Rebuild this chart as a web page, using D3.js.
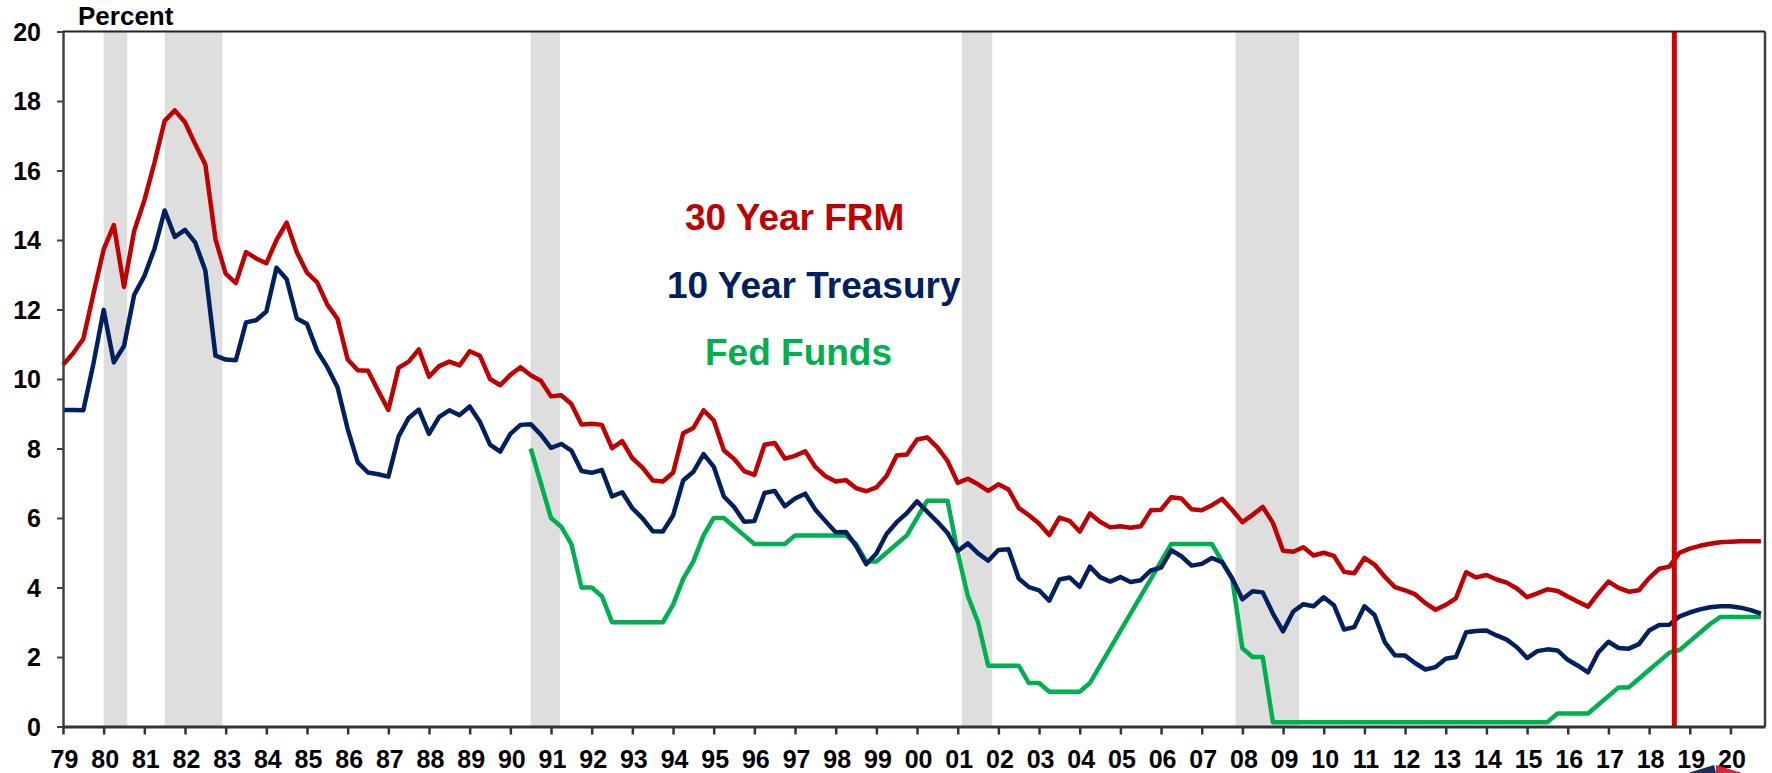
<!DOCTYPE html>
<html>
<head>
<meta charset="utf-8">
<script src="https://cdn.jsdelivr.net/npm/d3@7/dist/d3.min.js"></script>
<style>
  body { margin: 0; background: #ffffff; }
  svg { display: block; }
  text { font-family: "Liberation Sans", Arial, sans-serif; font-weight: bold; }
</style>
</head>
<body>
<div class="rates-chart-container"></div>
<script>
// quarterly values, first point = 1979 Q1
const firstQuarter = 1979;
const frm30 = [
    10.41, 10.74, 11.16, 12.46,  13.73, 14.43, 12.65, 14.26,  15.14, 16.23, 17.43, 17.73,
    17.39, 16.76, 16.17, 14.02,  13.03, 12.76, 13.65, 13.47,  13.33, 14.00, 14.50, 13.65,
    13.06, 12.78, 12.14, 11.73,  10.56, 10.25, 10.24, 9.66,   9.11, 10.32, 10.50, 10.85,
    10.07, 10.37, 10.50, 10.39,  10.80, 10.67, 10.00, 9.82,   10.12, 10.34, 10.11, 9.95,
    9.50, 9.53, 9.28, 8.69,      8.71, 8.68, 8.01, 8.21,      7.72, 7.45, 7.08, 7.05,
    7.30, 8.44, 8.59, 9.10,      8.81, 7.95, 7.70, 7.35,      7.24, 8.11, 8.16, 7.71,
    7.79, 7.92, 7.47, 7.20,      7.05, 7.09, 6.86, 6.77,      6.88, 7.21, 7.80, 7.83,
    8.26, 8.32, 8.03, 7.64,      7.01, 7.13, 6.97, 6.78,      6.97, 6.82, 6.29, 6.08,
    5.84, 5.51, 6.01, 5.92,      5.61, 6.13, 5.89, 5.73,      5.76, 5.72, 5.76, 6.22,
    6.24, 6.60, 6.56, 6.25,      6.22, 6.37, 6.55, 6.23,      5.88, 6.09, 6.32, 5.86,
    5.06, 5.03, 5.16, 4.92,      5.00, 4.91, 4.45, 4.41,      4.85, 4.66, 4.31, 4.01,
    3.92, 3.80, 3.55, 3.36,      3.50, 3.69, 4.44, 4.29,      4.36, 4.23, 4.14, 3.97,
    3.72, 3.83, 3.95, 3.90,      3.74, 3.59, 3.45, 3.83,      4.17, 3.99, 3.88, 3.92,
    4.27, 4.54, 4.60, 5.00,      5.12, 5.20, 5.26, 5.30,      5.32, 5.33, 5.33, 5.33
];
const treasury10 = [
    9.11, 9.11, 9.10, 10.45,     11.99, 10.48, 10.95, 12.42,  12.96, 13.75, 14.85, 14.09,
    14.29, 13.93, 13.12, 10.67,  10.56, 10.54, 11.63, 11.69,  11.94, 13.20, 12.87, 11.74,
    11.58, 10.81, 10.34, 9.76,   8.56, 7.60, 7.31, 7.26,      7.19, 8.34, 8.88, 9.12,
    8.42, 8.91, 9.10, 8.96,      9.21, 8.77, 8.11, 7.91,      8.42, 8.68, 8.70, 8.40,
    8.02, 8.13, 7.94, 7.35,      7.30, 7.38, 6.62, 6.74,      6.28, 5.99, 5.62, 5.61,
    6.07, 7.08, 7.33, 7.84,      7.48, 6.62, 6.32, 5.89,      5.91, 6.72, 6.78, 6.34,
    6.56, 6.70, 6.24, 5.91,      5.59, 5.60, 5.20, 4.67,      4.98, 5.54, 5.88, 6.14,
    6.48, 6.18, 5.89, 5.57,      5.05, 5.27, 4.98, 4.77,      5.08, 5.10, 4.26, 4.01,
    3.92, 3.62, 4.23, 4.29,      4.02, 4.60, 4.30, 4.17,      4.30, 4.16, 4.21, 4.49,
    4.57, 5.07, 4.90, 4.63,      4.68, 4.85, 4.73, 4.26,      3.66, 3.89, 3.86, 3.25,
    2.74, 3.31, 3.52, 3.46,      3.72, 3.49, 2.79, 2.86,      3.46, 3.21, 2.43, 2.05,
    2.04, 1.82, 1.64, 1.71,      1.95, 2.00, 2.71, 2.75,      2.76, 2.62, 2.50, 2.28,
    1.97, 2.17, 2.22, 2.19,      1.92, 1.75, 1.56, 2.13,      2.44, 2.26, 2.24, 2.37,
    2.76, 2.92, 2.93, 3.17,      3.28, 3.37, 3.43, 3.46,      3.46, 3.42, 3.35, 3.25
];
// fed funds starts at 1990 Q3
const fedFundsFirstQuarter = 1990.5;
const fedFunds = [
    8.00, 7.00,
    6.00, 5.75, 5.25, 4.00,      4.00, 3.75, 3.00, 3.00,      3.00, 3.00, 3.00, 3.00,
    3.50, 4.25, 4.75, 5.50,      6.00, 6.00, 5.75, 5.50,      5.25, 5.25, 5.25, 5.25,
    5.50, 5.50, 5.50, 5.50,      5.50, 5.50, 5.25, 4.75,      4.75, 5.00, 5.25, 5.50,
    6.00, 6.50, 6.50, 6.50,      5.00, 3.75, 3.00, 1.75,      1.75, 1.75, 1.75, 1.25,
    1.25, 1.00, 1.00, 1.00,      1.00, 1.25, 1.75, 2.25,      2.75, 3.25, 3.75, 4.25,
    4.75, 5.25, 5.25, 5.25,      5.25, 5.25, 4.75, 4.25,      2.25, 2.00, 2.00, 0.125,
    0.125, 0.125, 0.125, 0.125,  0.125, 0.125, 0.125, 0.125,  0.125, 0.125, 0.125, 0.125,
    0.125, 0.125, 0.125, 0.125,  0.125, 0.125, 0.125, 0.125,  0.125, 0.125, 0.125, 0.125,
    0.125, 0.125, 0.125, 0.375,  0.375, 0.375, 0.375, 0.625,  0.875, 1.125, 1.125, 1.375,
    1.625, 1.875, 2.125, 2.20,   2.45, 2.70, 2.95, 3.15,      3.15, 3.15, 3.15, 3.15
];

// recession shading (start, end) in decimal years
const recessions = [[1980.0, 1980.58], [1981.5, 1982.92], [1990.5, 1991.22], [2001.1, 2001.85], [2007.83, 2009.4]];
const forecastStart = 2018.62;
const yearTicks = d3.range(1979, 2021);
const percentTicks = [0, 2, 4, 6, 8, 10, 12, 14, 16, 18, 20];
const seriesNames = ["30 Year FRM", "10 Year Treasury", "Fed Funds"];

const width = 1772;
const height = 773;
const plot = { left: 63, right: 1765, top: 31.5, bottom: 726.5 };

const colors = { frm: "#C00000", treasury: "#002060", fed: "#00B050" };

const svg = d3.select(".rates-chart-container")
    .append("svg")
    .attr("width", width)
    .attr("height", height);

const x = d3.scaleLinear().domain([1979, 2020.85]).range([plot.left, plot.right]);
const y = d3.scaleLinear().domain([0, 20]).range([plot.bottom, plot.top]);

// recession bars
svg.selectAll(".recession")
    .data(recessions)
    .enter()
    .append("rect")
    .attr("class", "recession")
    .attr("x", d => x(d[0]))
    .attr("width", d => x(d[1]) - x(d[0]))
    .attr("y", y(20))
    .attr("height", y(0) - y(20))
    .attr("fill", "#DEDEDE");

// turn arrays into points
const toPoints = (values, start) => values.map((v, i) => ({ year: start + i * 0.25, value: v }));

const line = d3.line()
    .x(d => x(d.year))
    .y(d => y(d.value));

const series = [
    { name: seriesNames[0], points: toPoints(frm30, firstQuarter), color: colors.frm },
    { name: seriesNames[1], points: toPoints(treasury10, firstQuarter), color: colors.treasury },
    { name: seriesNames[2], points: toPoints(fedFunds, fedFundsFirstQuarter), color: colors.fed }
];

svg.selectAll(".series")
    .data(series.slice().reverse()) // green at the back, red on top
    .enter()
    .append("path")
    .attr("class", "series")
    .attr("d", d => line(d.points))
    .attr("fill", "none")
    .attr("stroke", d => d.color)
    .attr("stroke-width", 4.5)
    .attr("stroke-linejoin", "round");

// forecast divider
svg.append("line")
    .attr("x1", x(forecastStart))
    .attr("x2", x(forecastStart))
    .attr("y1", y(20))
    .attr("y2", y(0))
    .attr("stroke", "#D00000")
    .attr("stroke-width", 5);

// frame: top and right
svg.append("line")
    .attr("x1", plot.left).attr("x2", plot.right)
    .attr("y1", plot.top).attr("y2", plot.top)
    .attr("stroke", "#222").attr("stroke-width", 2);
svg.append("line")
    .attr("x1", plot.right).attr("x2", plot.right)
    .attr("y1", plot.top).attr("y2", plot.bottom)
    .attr("stroke", "#404040").attr("stroke-width", 2.5);

// y axis
const yAxis = svg.append("g")
    .attr("transform", `translate(${plot.left},0)`)
    .call(d3.axisLeft(y).tickValues(percentTicks).tickSize(6).tickSizeOuter(0).tickFormat(d3.format("d")));
yAxis.select(".domain").attr("stroke", "#404040").attr("stroke-width", 2.5);
yAxis.selectAll(".tick line").attr("stroke", "#404040").attr("stroke-width", 2);
yAxis.selectAll(".tick text")
    .attr("x", -22)
    .attr("dy", "0.35em")
    .style("font-size", "25px")
    .style("font-family", "'Liberation Sans', Arial, sans-serif")
    .style("font-weight", "bold")
    .attr("fill", "#000");

// x axis
const xAxis = svg.append("g")
    .attr("transform", `translate(0,${plot.bottom})`)
    .call(d3.axisBottom(x).tickValues(yearTicks).tickSize(8).tickSizeOuter(0)
        .tickFormat(d => String(d).slice(2)));
xAxis.select(".domain").attr("stroke", "#333").attr("stroke-width", 3);
xAxis.selectAll(".tick line").attr("stroke", "#333").attr("stroke-width", 2.5);
xAxis.selectAll(".tick text")
    .attr("y", 41)
    .attr("dy", 0)
    .attr("x", 1)
    .style("font-size", "25px")
    .style("font-family", "'Liberation Sans', Arial, sans-serif")
    .style("font-weight", "bold")
    .attr("fill", "#000");

// axis title
svg.append("text")
    .attr("x", 78)
    .attr("y", 25)
    .style("font-size", "26px")
    .attr("fill", "#000")
    .text("Percent");

// series labels
const labelPos = [
    { x: 685, y: 230 },
    { x: 667, y: 298 },
    { x: 705, y: 365 }
];
svg.selectAll(".series-label")
    .data(series)
    .enter()
    .append("text")
    .attr("class", "series-label")
    .attr("x", (d, i) => labelPos[i].x)
    .attr("y", (d, i) => labelPos[i].y)
    .style("font-size", "37px")
    .attr("fill", d => d.color)
    .text(d => d.name);

// corner of a logo that is cut off at the bottom edge
svg.append("polygon")
    .attr("points", "1688,773 1714,765 1716,773")
    .attr("fill", "#1F2A5C");
svg.append("polygon")
    .attr("points", "1716,765 1742,773 1716,773")
    .attr("fill", "#D0283C");
</script>
</body>
</html>
